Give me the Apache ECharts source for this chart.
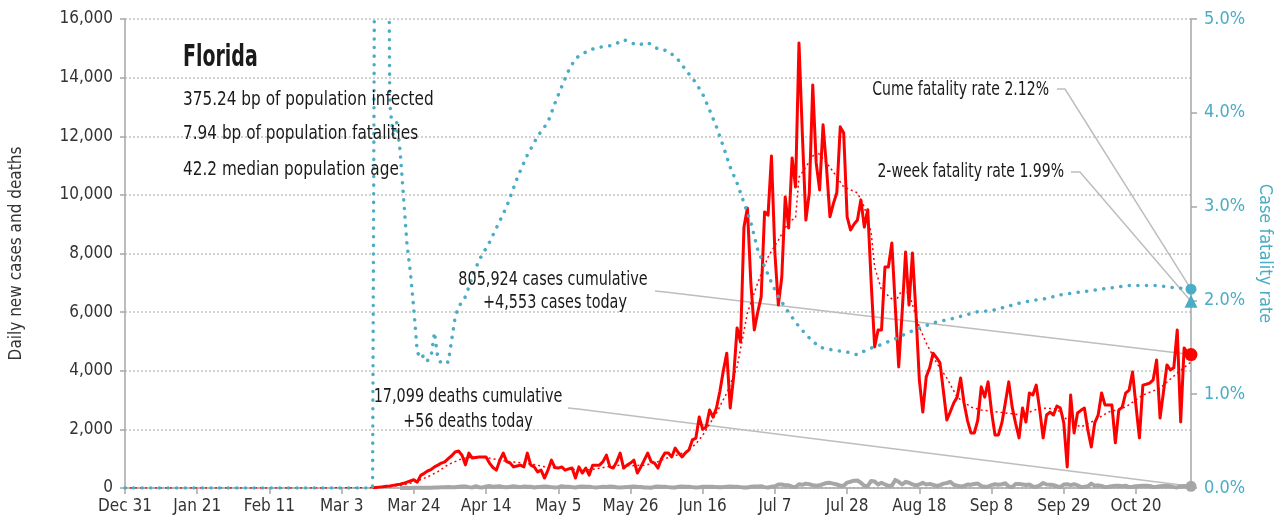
<!DOCTYPE html>
<html>
<head>
<meta charset="utf-8">
<title>Florida</title>
<script src="https://cdn.jsdelivr.net/npm/echarts@6/dist/echarts.min.js"></script>
<style>
  html, body { margin: 0; padding: 0; background: #fff; }
  #chart { width: 1278px; height: 529px; }
</style>
</head>
<body>
<div id="chart"></div>
<script>
const FONT = "'Liberation Sans Narrow', 'DejaVu Sans Condensed', sans-serif";
const RED = '#ff0000';
const GRAY = '#a6a6a6';
const TEAL = '#4bacc6';

// x categories: one per day, Dec 31 2019 .. Nov 5 2020
const MONTHS = ['Jan', 'Feb', 'Mar', 'Apr', 'May', 'Jun', 'Jul', 'Aug', 'Sep', 'Oct', 'Nov', 'Dec'];
const dates = [];
for (let i = 0; i < 311; i++) {
  const d = new Date(2019, 11, 31 + i);
  dates.push(MONTHS[d.getMonth()] + ' ' + d.getDate());
}

// daily new cases, starting Mar 12
const casesMar = [10, 20, 30, 40, 60, 70, 90, 110, 130, 160, 200, 240, 280, 200, 430, 500, 580, 630, 720, 780];
const casesApr = [850, 890, 1000, 1100, 1230, 1260, 1120, 790, 1190, 1020, 1040, 1060, 1060, 1060, 850, 700, 610, 950, 1190, 900,
  850, 720, 750, 780, 720, 1190, 780, 720, 550, 610];
const casesMay = [340, 610, 950, 700, 680, 720, 610, 650, 680, 340, 720, 510, 680, 440, 780, 780, 780, 900, 1120, 720,
  680, 900, 1190, 680, 780, 850, 950, 510, 720, 950, 1190];
const casesJun = [900, 850, 680, 1000, 1190, 1190, 1060, 1360, 1190, 1060, 1200, 1300, 1640, 1700, 2420, 2000, 2080, 2660, 2420, 2730,
  3300, 4000, 4600, 2730, 3800, 5460, 4980, 8900, 9550, 7000];
const casesJul = [5390, 6000, 6520, 9420, 9310, 11330, 8000, 6240, 7200, 9930, 8870, 11260, 10270, 15180, 12000, 9140, 10070, 13750, 11090, 10170,
  12390, 10950, 9250, 9700, 10070, 12320, 12110, 9250, 8800, 9000, 9140];
const casesAug = [9830, 8900, 9490, 7000, 4810, 5390, 5390, 7540, 7540, 8360, 6200, 4130, 6000, 8050, 6240, 8020, 6000, 3690, 2590, 3790,
  4100, 4600, 4450, 4270, 3300, 2320, 2600, 2900, 3100, 3750, 2900];
const casesSep = [2300, 1880, 1880, 2320, 3450, 3100, 3620, 2600, 1810, 1810, 2220, 2900, 3620, 2760, 2200, 1710, 2730, 2250, 3240, 3170,
  3510, 2660, 1710, 2490, 2590, 2490, 2800, 2730, 2220, 720];
const casesOct = [3170, 1880, 2560, 2650, 2730, 1980, 1400, 2220, 2490, 3240, 2830, 2830, 2830, 1540, 2660, 2760, 3240, 3340, 3960, 2800,
  1710, 3510, 3540, 3580, 3690, 4370, 2390, 3280, 4200, 4030, 4100];
const casesNov = [5390, 2250, 4780, 4600, 4553];

// daily deaths, starting Mar 20
const deathsMar = [1, 2, 3, 4, 5, 6, 5, 8, 10, 10, 14, 20];
const deathsApr = [25, 24, 30, 25, 28, 40, 50, 55, 30, 20, 60, 25, 20, 50, 70, 40, 55, 60, 30, 25, 40, 60, 45, 30, 55, 40, 40, 20, 35, 40];
const deathsMay = [50, 40, 30, 20, 30, 60, 45, 40, 30, 20, 40, 50, 40, 45, 30, 20, 30, 40, 35, 50, 45, 25, 20, 25, 30, 45, 50, 40, 35, 20, 15];
const deathsJun = [10, 40, 50, 45, 40, 30, 20, 15, 45, 50, 45, 40, 30, 20, 25, 40, 45, 45, 40, 30, 25, 30, 45, 50, 45, 40, 30, 20, 15, 45];
const deathsJul = [50, 50, 60, 30, 20, 40, 60, 120, 120, 90, 95, 45, 35, 130, 110, 150, 130, 90, 80, 90,
  135, 170, 175, 150, 120, 80, 80, 185, 215, 250, 255];
const deathsAug = [180, 80, 70, 240, 225, 120, 180, 120, 75, 80, 275, 210, 120, 210, 180, 125, 90, 120, 175, 120,
  140, 105, 70, 100, 150, 170, 210, 110, 80, 50, 70];
const deathsSep = [120, 110, 140, 150, 70, 40, 50, 100, 130, 110, 130, 160, 50, 30, 140, 140, 120, 100, 120, 50,
  40, 90, 170, 120, 110, 100, 60, 30, 120, 130];
const deathsOct = [100, 130, 90, 30, 40, 60, 150, 80, 90, 70, 30, 40, 60, 80, 80, 60, 80, 30, 40, 60,
  70, 80, 80, 70, 30, 40, 60, 70, 70, 60, 30];
const deathsNov = [20, 60, 70, 50, 56];

// 7-day average of cases
const casesAvg = [
  ['Dec 31', 0], ['Mar 10', 5], ['Mar 17', 45], ['Mar 21', 110], ['Mar 24', 190], ['Mar 28', 380], ['Mar 31', 560],
  ['Apr 3', 800], ['Apr 7', 1000], ['Apr 10', 1060], ['Apr 14', 1040], ['Apr 18', 950], ['Apr 21', 900], ['Apr 25', 850],
  ['Apr 28', 800], ['May 2', 700], ['May 5', 680], ['May 9', 640], ['May 12', 610], ['May 16', 650], ['May 19', 720],
  ['May 23', 780], ['May 26', 760], ['May 30', 780], ['Jun 2', 850], ['Jun 5', 1000], ['Jun 8', 1100], ['Jun 11', 1230],
  ['Jun 14', 1500], ['Jun 16', 1800], ['Jun 20', 2560], ['Jun 23', 3240], ['Jun 26', 4130], ['Jun 29', 5970],
  ['Jul 2', 7000], ['Jul 5', 7880], ['Jul 8', 8460], ['Jul 11', 9080], ['Jul 13', 9210], ['Jul 14', 10600],
  ['Jul 16', 10950], ['Jul 19', 11500], ['Jul 22', 11100], ['Jul 24', 10780], ['Jul 27', 10270], ['Jul 31', 10070],
  ['Aug 2', 9590], ['Aug 4', 8700], ['Aug 5', 7540], ['Aug 7', 6760], ['Aug 11', 6350], ['Aug 13', 6760], ['Aug 15', 6650],
  ['Aug 18', 5490], ['Aug 20', 4950], ['Aug 23', 4270], ['Aug 26', 3750], ['Aug 29', 3100], ['Sep 2', 2760], ['Sep 5', 2660],
  ['Sep 12', 2560], ['Sep 17', 2490], ['Sep 22', 2730], ['Sep 27', 2700], ['Sep 30', 2320], ['Oct 4', 2080], ['Oct 7', 2250],
  ['Oct 12', 2590], ['Oct 17', 2760], ['Oct 22', 3170], ['Oct 27', 3410], ['Nov 1', 3920], ['Nov 5', 4300]
];

// case fatality rate, % (right axis); values above 5 run off the top
const cfr = [
  ['Dec 31', 0], ['Mar 12', 0], ['Mar 13', 10], ['Mar 16', 10], ['Mar 17', 4.1], ['Mar 18', 3.75], ['Mar 19', 3.9],
  ['Mar 20', 3.6], ['Mar 21', 3.1], ['Mar 22', 2.6], ['Mar 23', 2.3], ['Mar 24', 1.9], ['Mar 25', 1.45], ['Mar 26', 1.38],
  ['Mar 27', 1.42], ['Mar 28', 1.36], ['Mar 29', 1.4], ['Mar 30', 1.66], ['Mar 31', 1.38], ['Apr 1', 1.33], ['Apr 2', 1.35],
  ['Apr 3', 1.34], ['Apr 4', 1.58], ['Apr 5', 1.82], ['Apr 6', 1.93], ['Apr 8', 2.04], ['Apr 10', 2.25], ['Apr 12', 2.43],
  ['Apr 15', 2.62], ['Apr 20', 3.0], ['Apr 23', 3.3], ['Apr 26', 3.55], ['Apr 29', 3.75], ['May 2', 3.9], ['May 4', 4.1],
  ['May 6', 4.28], ['May 8', 4.45], ['May 10', 4.58], ['May 14', 4.67], ['May 17', 4.7], ['May 21', 4.72], ['May 24', 4.78],
  ['May 28', 4.72], ['May 31', 4.75], ['Jun 3', 4.68], ['Jun 6', 4.66], ['Jun 9', 4.56], ['Jun 11', 4.46], ['Jun 14', 4.32],
  ['Jun 16', 4.2], ['Jun 18', 4.03], ['Jun 20', 3.85], ['Jun 22', 3.64], ['Jun 24', 3.42], ['Jun 26', 3.25], ['Jun 28', 3.04],
  ['Jun 30', 2.83], ['Jul 2', 2.54], ['Jul 4', 2.36], ['Jul 6', 2.19], ['Jul 8', 2.04], ['Jul 11', 1.87], ['Jul 14', 1.72],
  ['Jul 17', 1.6], ['Jul 20', 1.5], ['Jul 24', 1.47], ['Jul 28', 1.45], ['Jul 31', 1.42], ['Aug 3', 1.48], ['Aug 7', 1.53],
  ['Aug 11', 1.59], ['Aug 15', 1.66], ['Aug 19', 1.72], ['Aug 23', 1.77], ['Aug 27', 1.8], ['Aug 31', 1.84], ['Sep 4', 1.88],
  ['Sep 8', 1.89], ['Sep 12', 1.93], ['Sep 16', 1.97], ['Sep 20', 2.0], ['Sep 24', 2.02], ['Sep 28', 2.06], ['Oct 2', 2.08],
  ['Oct 6', 2.1], ['Oct 10', 2.12], ['Oct 14', 2.14], ['Oct 18', 2.16], ['Oct 22', 2.16], ['Oct 26', 2.16], ['Oct 30', 2.14],
  ['Nov 5', 2.12]
];

const cumeRate = 2.12;
const twoWeekRate = 1.99;

const infoLines = ['375.24 bp of population infected', '7.94 bp of population fatalities', '42.2 median population age'];

// ---- build series data ----
const cases = [].concat(casesMar, casesApr, casesMay, casesJun, casesJul, casesAug, casesSep, casesOct, casesNov);
const deaths = [].concat(deathsMar, deathsApr, deathsMay, deathsJun, deathsJul, deathsAug, deathsSep, deathsOct, deathsNov);
const casesStart = dates.indexOf('Mar 12');
const deathsStart = dates.indexOf('Mar 20');
const casesData = cases.map((v, i) => [casesStart + i, v]);
const deathsData = deaths.map((v, i) => [deathsStart + i, v]);
const avgData = casesAvg.map(p => [dates.indexOf(p[0]), p[1]]);
const cfrData = cfr.map(p => [dates.indexOf(p[0]), p[1]]);
const last = dates.length - 1;

const chart = echarts.init(document.getElementById('chart'));

const option = {
  animation: false,
  textStyle: { fontFamily: FONT },
  grid: { left: 125, right: 87, top: 19, bottom: 41, outerBoundsMode: 'none' },
  xAxis: {
    type: 'category',
    data: dates,
    boundaryGap: false,
    axisLine: { lineStyle: { color: GRAY, width: 1.5 } },
    axisTick: { interval: 20, length: 6, lineStyle: { color: GRAY, width: 1.5 } },
    axisLabel: { interval: 20, fontSize: 17, color: '#333', margin: 10, fontFamily: FONT },
    splitLine: { show: false }
  },
  yAxis: [{
    type: 'value',
    min: 0, max: 16000, interval: 2000,
    name: 'Daily new cases and deaths',
    nameLocation: 'middle',
    nameGap: 100,
    nameTextStyle: { fontSize: 17, color: '#333', fontFamily: FONT },
    axisLine: { show: true, lineStyle: { color: GRAY, width: 1.5 } },
    axisTick: { show: true, length: 5, lineStyle: { color: GRAY, width: 1.5 } },
    axisLabel: { fontSize: 17, color: '#333', margin: 12, fontFamily: FONT,
      formatter: v => v.toLocaleString('en-US') },
    splitLine: { lineStyle: { color: '#c4c4c4', type: [2, 2], width: 1.5 } }
  }, {
    type: 'value',
    position: 'right',
    min: 0, max: 5, interval: 1,
    name: 'Case fatality rate',
    nameLocation: 'middle',
    nameGap: 64,
    nameRotate: -90,
    nameTextStyle: { fontSize: 18, color: TEAL, fontFamily: FONT },
    axisLine: { show: true, lineStyle: { color: GRAY, width: 1.5 } },
    axisTick: { show: true, length: 6, lineStyle: { color: GRAY, width: 1.5 } },
    axisLabel: { fontSize: 18, color: TEAL, margin: 13, fontFamily: FONT,
      formatter: v => v.toFixed(1) + '%' },
    splitLine: { show: false }
  }],
  series: [{
    name: 'Cases 7-day average',
    type: 'line',
    data: avgData,
    symbol: 'none',
    z: 2,
    lineStyle: { color: RED, width: 1.5, type: [2, 3] }
  }, {
    name: 'Daily new cases',
    type: 'line',
    data: casesData,
    symbol: 'none',
    z: 3,
    lineStyle: { color: RED, width: 3, join: 'round' }
  }, {
    name: 'Daily deaths',
    type: 'line',
    data: deathsData,
    symbol: 'none',
    z: 4,
    lineStyle: { color: GRAY, width: 4, join: 'round' }
  }, {
    name: 'Case fatality rate',
    type: 'line',
    yAxisIndex: 1,
    data: cfrData,
    symbol: 'none',
    z: 5,
    lineStyle: { color: TEAL, width: 3.5, type: [0.1, 8.5], cap: 'round' }
  }, {
    type: 'scatter', z: 10, symbolSize: 13,
    data: [[last, cases[cases.length - 1]]],
    itemStyle: { color: RED, opacity: 1 }
  }, {
    type: 'scatter', z: 10, symbolSize: 11,
    data: [[last, deaths[deaths.length - 1]]],
    itemStyle: { color: GRAY, opacity: 1 }
  }, {
    type: 'scatter', z: 10, symbolSize: 11, yAxisIndex: 1,
    data: [[last, cumeRate]],
    itemStyle: { color: TEAL, opacity: 1 }
  }, {
    type: 'scatter', z: 10, symbolSize: 13, symbol: 'triangle', yAxisIndex: 1,
    data: [[last, twoWeekRate]],
    itemStyle: { color: TEAL, opacity: 1 }
  }]
};

chart.setOption(option);

// annotations, anchored to the end points via the chart's own scales
const toPx = (axis, v) => chart.convertToPixel({ xAxisIndex: 0, yAxisIndex: axis }, [last, v]);
const pCase = toPx(0, cases[cases.length - 1]);
const pDeath = toPx(0, deaths[deaths.length - 1]);
const pCume = toPx(1, cumeRate);
const pTwo = toPx(1, twoWeekRate);

const leader = pts => ({
  type: 'polyline', z: 1, silent: true,
  shape: { points: pts },
  style: { stroke: '#bdbdbd', lineWidth: 1.5, fill: null }
});
// narrow lettering: draw the text a bit larger and squeeze it horizontally
const label = (text, x, y, align, size, squeeze, weight) => ({
  type: 'text', z: 20, silent: true,
  x: x, y: y, scaleX: squeeze, scaleY: 1,
  style: {
    text: text, x: 0, y: 0, align: align, verticalAlign: 'middle',
    fill: '#1a1a1a', fontSize: size, fontWeight: weight || 'normal', fontFamily: FONT
  }
});

chart.setOption({
  graphic: [
    leader([[655, 291], [665, 292], pCase]),
    leader([[568, 408], [578, 409], pDeath]),
    leader([[1057, 89], [1065, 89], pCume]),
    leader([[1071, 172], [1080, 172], pTwo]),
    label('Florida', 183, 58, 'left', 31, 0.68, 'bold'),
    label(infoLines[0], 183, 100, 'left', 20, 0.85),
    label(infoLines[1], 183, 134, 'left', 20, 0.85),
    label(infoLines[2], 183, 170, 'left', 20, 0.85),
    label('805,924 cases cumulative', 553, 280, 'center', 20, 0.8),
    label('+4,553 cases today', 555, 303, 'center', 20, 0.8),
    label('17,099 deaths cumulative', 468, 397, 'center', 20, 0.8),
    label('+56 deaths today', 468, 422, 'center', 20, 0.8),
    label('Cume fatality rate 2.12%', 1049, 90, 'right', 20, 0.78),
    label('2-week fatality rate 1.99%', 1064, 172, 'right', 20, 0.78)
  ]
});
</script>
</body>
</html>
